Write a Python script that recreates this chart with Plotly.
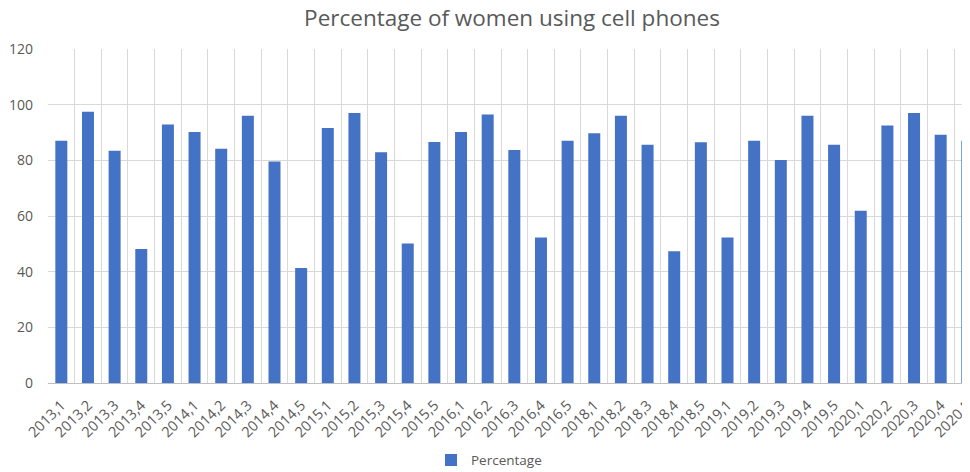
import plotly.graph_objects as go

categories = [
    "2013,1", "2013,2", "2013,3", "2013,4", "2013,5",
    "2014,1", "2014,2", "2014,3", "2014,4", "2014,5",
    "2015,1", "2015,2", "2015,3", "2015,4", "2015,5",
    "2016,1", "2016,2", "2016,3", "2016,4", "2016,5",
    "2018,1", "2018,2", "2018,3", "2018,4", "2018,5",
    "2019,1", "2019,2", "2019,3", "2019,4", "2019,5",
    "2020,1", "2020,2", "2020,3", "2020,4", "2020,5",
]
percentage = [
    87.0, 97.5, 83.4, 48.1, 92.9,
    90.2, 84.2, 96.0, 79.6, 41.3,
    91.6, 97.0, 82.9, 50.1, 86.6,
    90.2, 96.5, 83.7, 52.3, 87.0,
    89.7, 96.0, 85.6, 47.3, 86.5,
    52.3, 87.0, 80.1, 96.0, 85.6,
    61.9, 92.5, 97.0, 89.2, 87.0,
]
y_ticks = [0, 20, 40, 60, 80, 100, 120]

# The page body adds an 8px margin, so the figure is sized to fill the rest.
W, H = 962, 464

fig = go.Figure()
fig.add_trace(go.Bar(
    x=categories, y=percentage, name="Percentage",
    marker=dict(color="#4472C4", line=dict(width=0)),
))

font_family = "'Open Sans', sans-serif"
fig.update_layout(
    width=W, height=H,
    margin=dict(l=40, r=0, t=41, b=89, autoexpand=False),
    plot_bgcolor="white", paper_bgcolor="white",
    bargap=0.55,
    font=dict(family=font_family, color="#595959"),
    title=dict(
        text="Percentage of women using cell phones",
        x=504 / W, xref="container", xanchor="center",
        y=1 - 10 / H, yref="container", yanchor="middle",
        font=dict(size=22.5, color="#595959", family=font_family),
    ),
    showlegend=True,
    legend=dict(
        orientation="h", x=(423 - 40) / 922, xanchor="left",
        y=-0.231, yanchor="middle",
        font=dict(size=13.5, color="#595959"),
    ),
    xaxis=dict(
        type="category", range=[-0.5, 34.1], automargin=False,
        tickson="boundaries", showgrid=True, gridcolor="#d9d9d9", gridwidth=1,
        tickangle=-45, tickfont=dict(size=14.5, color="#595959"),
        showline=True, linecolor="#bfbfbf", linewidth=1,
        ticks="", zeroline=False, ticklabelstandoff=7,
    ),
    yaxis=dict(
        range=[0, 120], tickvals=y_ticks, automargin=False,
        showgrid=True, gridcolor="#d9d9d9", gridwidth=1,
        tickfont=dict(size=14, color="#595959"),
        zeroline=False, ticks="", showline=False, ticklabelstandoff=14,
    ),
)

fig.write_html("out.html")
